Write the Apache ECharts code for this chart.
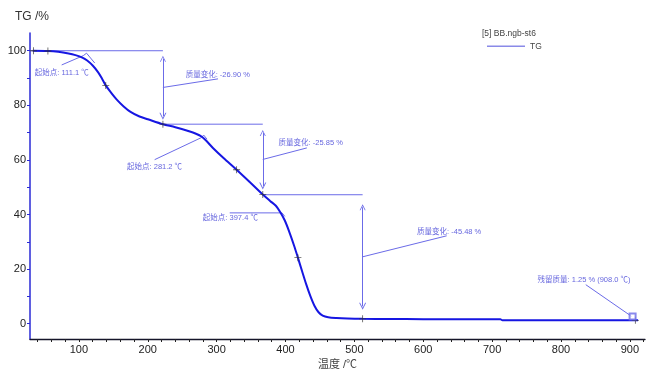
<!DOCTYPE html>
<html><head><meta charset="utf-8">
<script src="https://cdn.jsdelivr.net/npm/echarts@6/dist/echarts.min.js"></script>
<style>html,body{margin:0;padding:0;background:#fff}#c{width:648px;height:370px}</style>
</head><body><div id="c"></div>
<script>
// ---- data ----
const temperatures = [33, 55, 70, 85, 95, 105, 112, 120, 128, 134, 139, 146, 155, 165, 175, 188, 200, 222,
  240, 260, 270, 278, 285, 295, 310, 329, 348, 367, 378, 386, 392, 399, 406, 413, 418, 424, 430, 436, 442, 448, 454,
  462, 474, 490, 512, 550, 600, 650, 700, 712, 715, 760, 820, 870, 912];
const tgPercent = [100, 99.9, 99.6, 99.0, 98.4, 97.5, 96.4, 94.6, 92.1, 89.6, 87.3, 84.9, 82.1, 79.6, 77.6, 75.9, 74.9, 73.1,
  72.0, 70.5, 69.6, 68.6, 67.0, 64.3, 60.7, 56.4, 51.9, 47.3, 44.9, 43.2, 41.0, 37.8, 33.3, 28.2, 24.2, 19.3, 14.5, 10.2, 6.6, 4.2, 3.0,
  2.4, 2.1, 1.9, 1.78, 1.72, 1.68, 1.65, 1.62, 1.6, 1.3, 1.28, 1.27, 1.26, 1.25];

const xTickLabels = [100, 200, 300, 400, 500, 600, 700, 800, 900];
const xTickValues = [40, 60, 80, 100, 120, 140, 160, 180, 200, 220, 240, 260, 280, 300, 320, 340, 360, 380, 400,
  420, 440, 460, 480, 500, 520, 540, 560, 580, 600, 620, 640, 660, 680, 700, 720, 740, 760, 780, 800, 820, 840,
  860, 880, 900, 920];
const yTickLabels = [0, 20, 40, 60, 80, 100];
const yTickValues = [0, 10, 20, 30, 40, 50, 60, 70, 80, 90, 100];

// cross markers on the curve
const markerTemps = [34, 55, 139, 222, 329, 367, 418, 512, 908];
const markerTG = [100, 99.9, 87.3, 73.1, 56.4, 47.3, 24.2, 1.78, 1.25];

// step evaluation
const stepTemps = [222, 367, 512];
const stepLevels = [100, 73.10, 47.25, 1.77];
const stepChanges = [-26.90, -25.85, -45.48];
const stepArrowGap = [2.9, 3.2, 4.6];
const stepLabelAnchor = [[255, 91.2], [390, 66.3], [591, 33.7]];
const stepLeaderEnd = [[302, 89.7], [431, 64.4], [634, 32.2]];

// onsets
const onsetTemps = [111.1, 281.2, 397.4];
const onsetLabelAnchor = [[36, 91.9], [170, 57.5], [280, 38.8]];
const onsetLeaders = [
  [[75, 94.8], [106.3, 98.2], [111.1, 99.1], [123, 95.5]],
  [[210, 60.1], [278, 68.2], [281.2, 69.1], [286, 67.6]],
  [[319, 40.6], [395, 40.6], [399, 39.3]]
];

// residual mass
const residualMass = 1.25;
const residualTemp = 908.0;
const residualLabelAnchor = [766, 16.1];
const residualLeader = [[836, 14.3], [903, 2.6]];

const xMin = 29, xMax = 922, yMin = -5.6, yMax = 106.5;

// ---- build options ----
const annoColor = '#6b6be8';
const textColor = '#3c3cd6';
const font = '"Liberation Sans", Arial, "Noto Sans CJK SC", sans-serif';

const curve = temperatures.map((t, i) => [t, tgPercent[i]]);

const refLines = [];
for (let i = 0; i < stepTemps.length; i++) {
  const start = i === 0 ? xMin : stepTemps[i - 1];
  refLines.push({ coords: [[start, stepLevels[i]], [stepTemps[i], stepLevels[i]]] });
  const top = stepLevels[i] - stepArrowGap[i];
  const bot = stepLevels[i + 1] + stepArrowGap[i];
  const mid = (top + bot) / 2;
  refLines.push({ coords: [[stepTemps[i], mid], stepLeaderEnd[i]] });
}
onsetLeaders.forEach(p => refLines.push({ coords: p }));
refLines.push({ coords: residualLeader });

const arrows = stepTemps.map((t, i) => ({
  coords: [[t, stepLevels[i] - stepArrowGap[i]], [t, stepLevels[i + 1] + stepArrowGap[i]]]
}));

const labels = [];
stepChanges.forEach((c, i) => labels.push({ value: stepLabelAnchor[i], text: '质量变化: ' + c.toFixed(2) + ' %' }));
onsetTemps.forEach((t, i) => labels.push({ value: onsetLabelAnchor[i], text: '起始点: ' + t.toFixed(1) + ' ℃' }));
labels.push({ value: residualLabelAnchor, text: '残留质量: ' + residualMass.toFixed(2) + ' % (' + residualTemp.toFixed(1) + ' ℃)' });

const chevron = 'path://M5,0L10,10L8.6,10L5,2.8L1.4,10L0,10Z';
const plus = 'path://M4.4,0L5.6,0L5.6,4.4L10,4.4L10,5.6L5.6,5.6L5.6,10L4.4,10L4.4,5.6L0,5.6L0,4.4L4.4,4.4Z';

const chart = echarts.init(document.getElementById('c'), null, { renderer: 'canvas' });
chart.setOption({
  animation: false,
  backgroundColor: '#fff',
  textStyle: { fontFamily: font },
  title: { text: 'TG /%', left: 10, top: 6, textStyle: { fontSize: 12, fontWeight: 'normal', color: '#333', fontFamily: font } },
  legend: {
    left: 482, top: 37, itemWidth: 38, itemHeight: 1.5, icon: 'rect',
    data: [{ name: 'TG', itemStyle: { color: '#8a8ae8' } }],
    textStyle: { fontSize: 8.5, color: '#444', fontFamily: font }
  },
  graphic: [{ type: 'text', left: 482, top: 29, style: { text: '[5] BB.ngb-st6', fontSize: 8.5, fill: '#444', fontFamily: font } }],
  grid: { left: 30, right: 3, top: 33, bottom: 31, outerBoundsMode: 'none', containLabel: false },
  xAxis: {
    type: 'value', min: xMin, max: xMax,
    name: '温度 /℃', nameLocation: 'middle', nameGap: 18,
    nameTextStyle: { fontSize: 11, color: '#444', fontFamily: font },
    axisLine: { show: true, onZero: false, lineStyle: { color: '#15152a', width: 1.3 } },
    axisTick: { show: true, length: 3, customValues: xTickValues, lineStyle: { color: '#222' } },
    axisLabel: { customValues: xTickLabels, fontSize: 11, color: '#222', margin: 5, fontFamily: font },
    splitLine: { show: false }
  },
  yAxis: {
    type: 'value', min: yMin, max: yMax,
    axisLine: { show: true, onZero: false, lineStyle: { color: '#2a2ad6', width: 1.5 } },
    axisTick: { show: true, length: 3, customValues: yTickValues, lineStyle: { color: '#2a2ad6' } },
    axisLabel: { customValues: yTickLabels, fontSize: 11, color: '#222', margin: 4, fontFamily: font },
    splitLine: { show: false }
  },
  series: [
    {
      name: 'TG', type: 'line', data: curve, showSymbol: false, smooth: 0.3, z: 5,
      lineStyle: { color: '#1616e2', width: 2 }, itemStyle: { color: '#1616e2' }
    },
    {
      name: 'refs', type: 'lines', coordinateSystem: 'cartesian2d', polyline: true, z: 3,
      lineStyle: { color: annoColor, width: 1, opacity: 1 }, data: refLines, silent: true
    },
    {
      name: 'arrows', type: 'lines', coordinateSystem: 'cartesian2d', z: 3,
      symbol: [chevron, chevron], symbolSize: [6, 7],
      lineStyle: { color: annoColor, width: 1, opacity: 1 }, data: arrows, silent: true
    },
    {
      name: 'markers', type: 'scatter', symbol: plus, symbolSize: 7, z: 6,
      itemStyle: { color: '#333' }, data: markerTemps.map((t, i) => [t, markerTG[i]]), silent: true
    },
    {
      name: 'resbox', type: 'scatter', symbol: 'emptyRect', symbolSize: 6, z: 6,
      itemStyle: { color: annoColor, borderColor: annoColor, borderWidth: 1 }, data: [[residualTemp - 4, 2.6]], silent: true
    },
    {
      name: 'labels', type: 'scatter', symbolSize: 0, z: 7, silent: true,
      data: labels.map(l => ({ value: l.value, label: { formatter: l.text } })),
      label: { show: true, position: 'right', distance: 0, fontSize: 7.5, color: textColor, fontFamily: font }
    }
  ]
});
</script>
</body></html>
